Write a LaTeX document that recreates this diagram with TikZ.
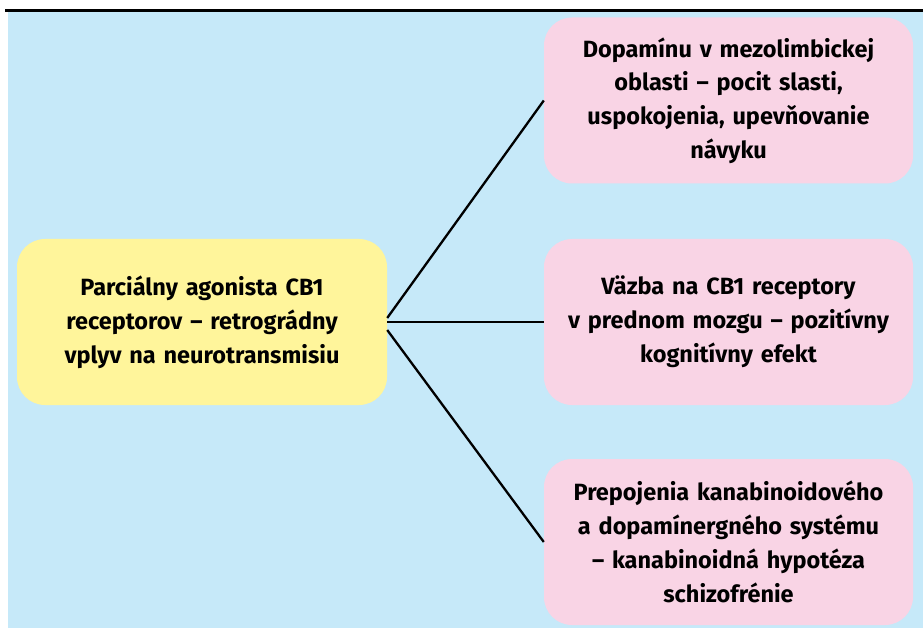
\documentclass[tikz,border=0pt]{standalone}
\usepackage{fontspec}
\setmainfont{Fira Sans}

\definecolor{bgblue}{RGB}{198,233,249}
\definecolor{boxyellow}{RGB}{255,245,155}
\definecolor{boxpink}{RGB}{249,212,229}

\begin{document}
\begin{tikzpicture}[x=1pt, y=-1pt,
  mainbox/.style={fill=boxyellow, rounded corners=28pt, minimum width=370pt,
    minimum height=166pt, text width=350pt, align=center,
    font=\bfseries\fontsize{23.5}{33.8}\selectfont},
  effbox/.style={mainbox, fill=boxpink, minimum width=369pt},
  link/.style={line width=2.3pt}]

  \useasboundingbox (0,0) rectangle (923,628);

  % Background and top rule
  \fill[bgblue] (8,12) rectangle (923,628);
  \draw[line width=3pt] (5,10.5) -- (923,10.5);

  % Central box
  \node[mainbox] (agonist) at (202,322)
    {Parciálny agonista CB1\\ receptorov -- retrográdny\\ vplyv na neurotransmisiu};

  % Effect boxes
  \node[effbox] (dopamine) at (728.5,100.5)
    {Dopamínu v mezolimbickej\\ oblasti -- pocit slasti,\\ uspokojenia, upevňovanie\\ návyku};
  \node[effbox] (cognition) at (728.5,322)
    {Väzba na CB1 receptory\\ v prednom mozgu -- pozitívny\\ kognitívny efekt};
  \node[effbox] (schizo) at (728.5,542)
    {Prepojenia kanabinoidového\\ a dopamínergného systému\\ -- kanabinoidná hypotéza\\ schizofrénie};

  % Connectors
  \draw[link] ([yshift=4pt]agonist.east) -- (dopamine.west);
  \draw[link] (agonist.east) -- (cognition.west);
  \draw[link] ([yshift=-8pt]agonist.east) -- (schizo.west);

\end{tikzpicture}
\end{document}
